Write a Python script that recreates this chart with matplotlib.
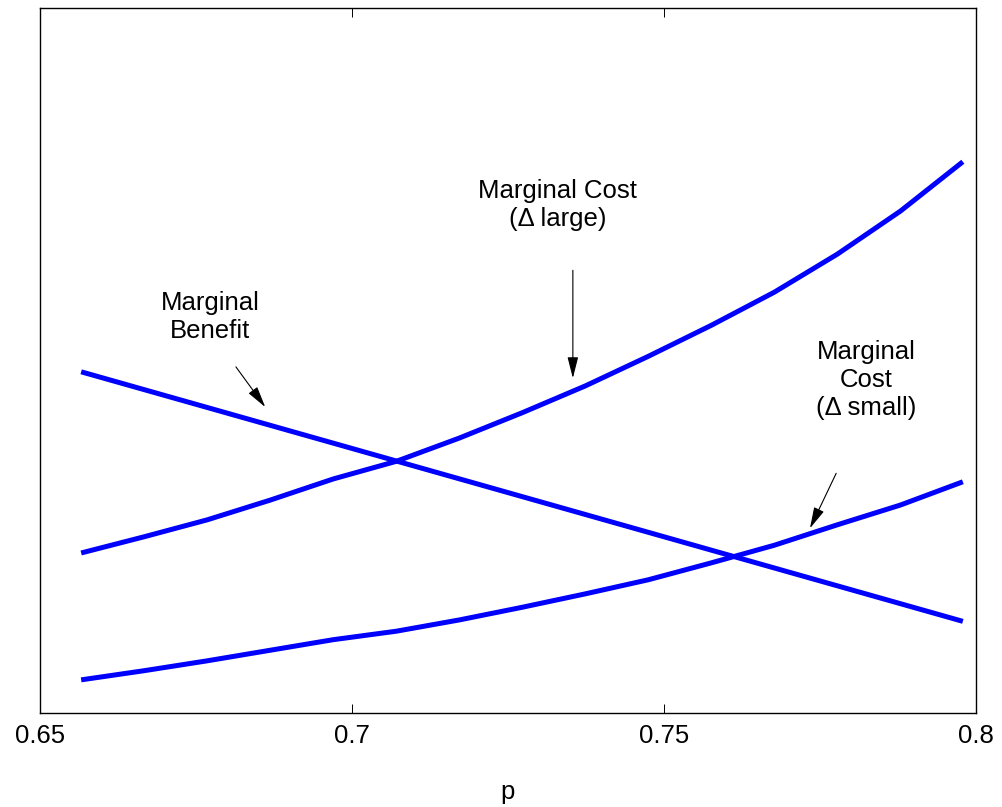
import numpy as np
import matplotlib
matplotlib.use("Agg")
import matplotlib.pyplot as plt

plt.rcParams['font.family'] = ['Liberation Sans', 'DejaVu Sans']

# p grid of the two cost curves (15 samples)
p = [0.6566, 0.6667, 0.6768, 0.6869, 0.6970, 0.7071, 0.7172, 0.7273,
     0.7374, 0.7475, 0.7576, 0.7677, 0.7778, 0.7879, 0.7979]
cost_large = [0.227, 0.250, 0.274, 0.302, 0.332, 0.357, 0.390, 0.426,
              0.464, 0.506, 0.550, 0.597, 0.651, 0.712, 0.782]
cost_small = [0.047, 0.060, 0.074, 0.089, 0.104, 0.116, 0.132, 0.150,
              0.169, 0.189, 0.213, 0.238, 0.267, 0.295, 0.328]
# marginal benefit is a straight line
p_benefit = [0.6566, 0.7979]
benefit = [0.484, 0.130]

xticks = [0.65, 0.7, 0.75, 0.8]
xtick_labels = ['0.65', '0.7', '0.75', '0.8']

fig = plt.figure(figsize=(10.02, 8.07), dpi=100)
ax = fig.add_axes([0.0399, 0.1165, 0.9341, 0.8735])

blue = '#0000ff'
ax.plot(p, cost_large, color=blue, lw=3.6, solid_capstyle='butt')
ax.plot(p, cost_small, color=blue, lw=3.6, solid_capstyle='butt')
ax.plot(p_benefit, benefit, color=blue, lw=3.6, solid_capstyle='butt')

ax.set_xlim(0.65, 0.8)
ax.set_ylim(0, 1)
ax.set_xticks(xticks)
ax.set_xticklabels(xtick_labels)
ax.set_yticks([])
ax.tick_params(axis='x', direction='in', length=6.5, width=0.7,
               top=True, labelsize=18.5, pad=8)
for s in ax.spines.values():
    s.set_linewidth(1.0)
ax.set_xlabel('p', fontsize=18.5, labelpad=23)

arrow = dict(arrowstyle='-|>,head_length=1.3,head_width=0.33',
             color='black', lw=0.8, shrinkA=0, shrinkB=0)
txt = dict(fontsize=18.5, ha='center', va='center', linespacing=1.2)

ax.annotate('', xy=(0.6861, 0.434), xytext=(0.6814, 0.491),
            arrowprops=arrow)
ax.text(0.6773, 0.562, 'Marginal\nBenefit', **txt)

ax.annotate('', xy=(0.7354, 0.475), xytext=(0.7354, 0.628),
            arrowprops=arrow)
ax.text(0.7330, 0.721, 'Marginal Cost\n(Δ large)', **txt)

ax.annotate('', xy=(0.7734, 0.262), xytext=(0.7776, 0.340),
            arrowprops=arrow)
ax.text(0.7824, 0.472, 'Marginal\nCost\n(Δ small)', **txt)

fig.savefig('out.png', dpi=100)
